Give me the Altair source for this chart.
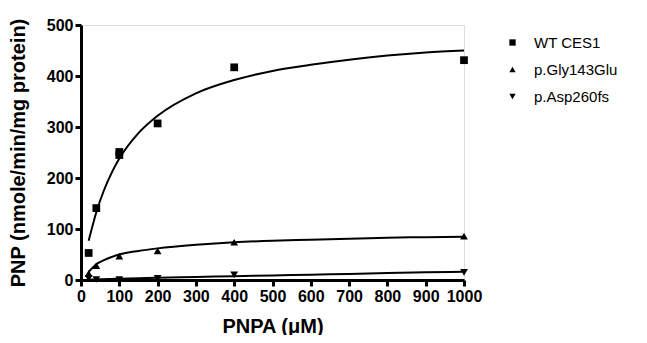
import altair as alt
import pandas as pd

series_names = ["WT CES1", "p.Gly143Glu", "p.Asp260fs"]

# measured points
wt_x = [20, 40, 100, 100, 200, 400, 1000]
wt_y = [53, 141, 245, 251, 307, 417, 431]
gly_x = [20, 40, 100, 200, 400, 1000]
gly_y = [13, 28, 47, 57, 74, 86]
asp_x = [20, 40, 100, 200, 400, 1000]
asp_y = [3, 1, 1, 3, 10, 15]

# fitted curves
fit_x = [20, 40, 60, 80, 100, 150, 200, 300, 400, 500, 600, 700, 800, 900, 1000]
wt_fit = [77, 133, 176, 210, 238, 288, 322, 366, 392, 410, 422, 432, 440, 446, 450]
gly_fit = [16, 31, 39, 45, 50, 57, 62, 69, 74, 77, 79, 81, 83, 84, 85]
asp_fit = [0.5, 1, 1.5, 2, 2.5, 3.5, 4.5, 6, 7.5, 9, 10.5, 12, 13.5, 15, 16]

x_ticks = [0, 100, 200, 300, 400, 500, 600, 700, 800, 900, 1000]
y_ticks = [0, 100, 200, 300, 400, 500]

pts = pd.DataFrame(
    {"x": wt_x + gly_x + asp_x,
     "y": wt_y + gly_y + asp_y,
     "s": [series_names[0]] * len(wt_x) + [series_names[1]] * len(gly_x) + [series_names[2]] * len(asp_x)}
)
fits = pd.DataFrame(
    {"x": fit_x * 3,
     "y": wt_fit + gly_fit + asp_fit,
     "s": [series_names[0]] * len(fit_x) + [series_names[1]] * len(fit_x) + [series_names[2]] * len(fit_x)}
)

FONT = "Liberation Sans"

xscale = alt.Scale(domain=[0, 1000], nice=False, zero=True)
yscale = alt.Scale(domain=[0, 500], nice=False)

xaxis = alt.Axis(values=x_ticks, format="d", labelOverlap=False,
                 title="PNPA (μM)", grid=False,
                 domainColor="black", domainWidth=3, tickColor="black", tickWidth=3, tickSize=6,
                 labelFont=FONT, labelFontSize=16, labelFontWeight="bold", labelColor="black",
                 labelPadding=2, labelFlush=False,
                 titleFont=FONT, titleFontSize=20, titleFontWeight="bold", titleColor="black",
                 titlePadding=12)
yaxis = alt.Axis(values=y_ticks, format="d", labelOverlap=False,
                 title="PNP (nmole/min/mg protein)", grid=False,
                 domainColor="black", domainWidth=3, tickColor="black", tickWidth=3, tickSize=6,
                 labelFont=FONT, labelFontSize=16, labelFontWeight="bold", labelColor="black",
                 labelPadding=2,
                 titleFont=FONT, titleFontSize=20, titleFontWeight="bold", titleColor="black",
                 titlePadding=18)

lines = alt.Chart(fits).mark_line(color="black", strokeWidth=2, interpolate="monotone", clip=False).encode(
    x=alt.X("x:Q", scale=xscale, axis=xaxis),
    y=alt.Y("y:Q", scale=yscale, axis=yaxis),
    detail="s:N",
)

points = alt.Chart(pts).mark_point(filled=True, color="black", opacity=1, size=60, clip=False).encode(
    x=alt.X("x:Q", scale=xscale, axis=xaxis),
    y=alt.Y("y:Q", scale=yscale, axis=yaxis),
    shape=alt.Shape("s:N",
                    scale=alt.Scale(domain=series_names, range=["square", "triangle-up", "triangle-down"]),
                    legend=alt.Legend(title=None, orient="none", legendX=424, legendY=10,
                                      labelFont=FONT, labelFontSize=15, labelColor="black",
                                      symbolFillColor="black", symbolStrokeColor="black",
                                      symbolSize=40, rowPadding=11, labelOffset=14)),
)

chart = alt.layer(lines, points).properties(
    width=383, height=255,
    autosize=alt.AutoSizeParams(type="none"),
    padding={"left": 73, "top": 17, "right": 175, "bottom": 55},
).configure_view(stroke=None).configure(background="white")

chart.save("out.html", embed_options={"renderer": "svg", "actions": False})
